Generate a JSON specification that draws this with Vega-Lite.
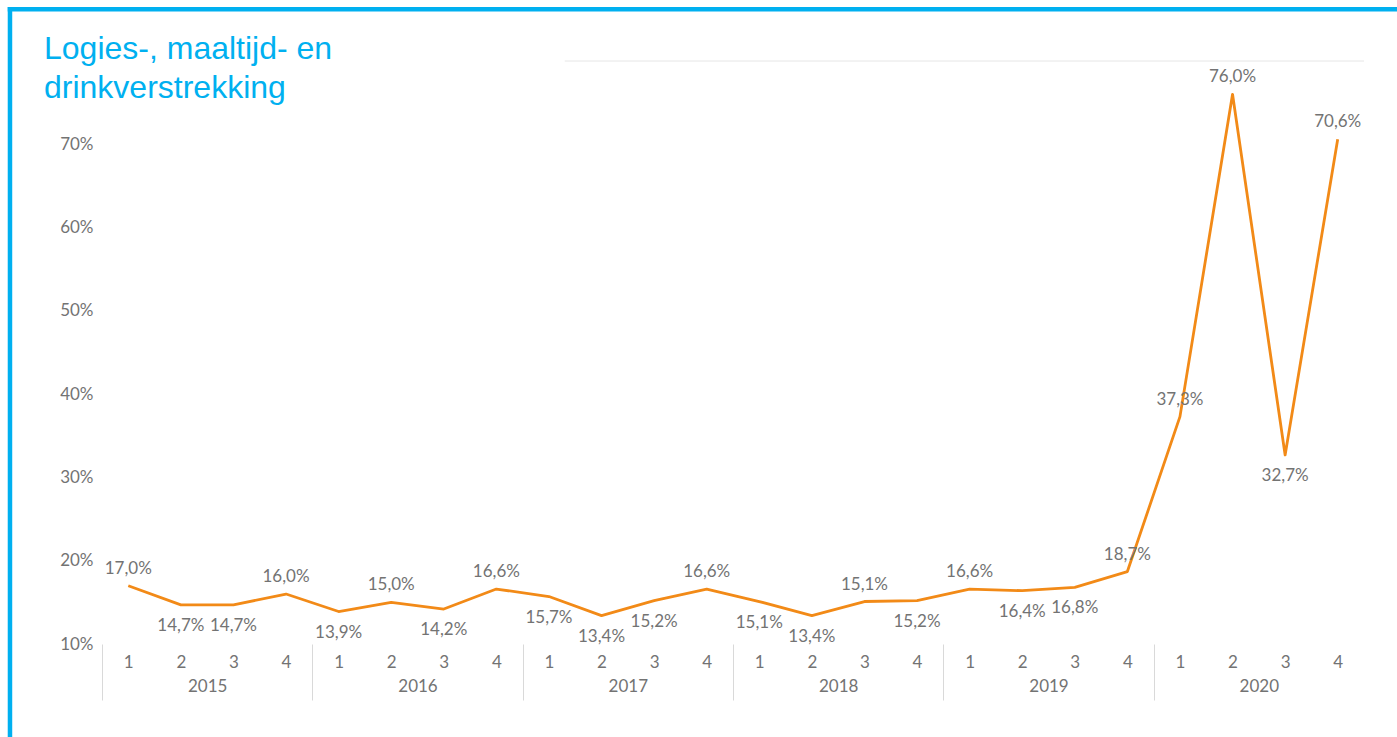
{
  "$schema": "https://vega.github.io/schema/vega-lite/v6.json",
  "width": 1262,
  "height": 583,
  "autosize": {"type": "none"},
  "padding": {"left": 102, "top": 61, "right": 33, "bottom": 93},
  "background": "white",
  "title": {
    "text": ["Logies-, maaltijd- en", "drinkverstrekking"],
    "anchor": "start",
    "frame": "group",
    "font": "Liberation Sans",
    "fontSize": 32,
    "fontWeight": "normal",
    "color": "#00B0F0",
    "lineHeight": 39,
    "offset": 0,
    "dx": -58,
    "dy": 99
  },
  "data": {
    "values": [
      {"year": 2015, "quarter": 1, "value": 17.0},
      {"year": 2015, "quarter": 2, "value": 14.7},
      {"year": 2015, "quarter": 3, "value": 14.7},
      {"year": 2015, "quarter": 4, "value": 16.0},
      {"year": 2016, "quarter": 1, "value": 13.9},
      {"year": 2016, "quarter": 2, "value": 15.0},
      {"year": 2016, "quarter": 3, "value": 14.2},
      {"year": 2016, "quarter": 4, "value": 16.6},
      {"year": 2017, "quarter": 1, "value": 15.7},
      {"year": 2017, "quarter": 2, "value": 13.4},
      {"year": 2017, "quarter": 3, "value": 15.2},
      {"year": 2017, "quarter": 4, "value": 16.6},
      {"year": 2018, "quarter": 1, "value": 15.1},
      {"year": 2018, "quarter": 2, "value": 13.4},
      {"year": 2018, "quarter": 3, "value": 15.1},
      {"year": 2018, "quarter": 4, "value": 15.2},
      {"year": 2019, "quarter": 1, "value": 16.6},
      {"year": 2019, "quarter": 2, "value": 16.4},
      {"year": 2019, "quarter": 3, "value": 16.8},
      {"year": 2019, "quarter": 4, "value": 18.7},
      {"year": 2020, "quarter": 1, "value": 37.3},
      {"year": 2020, "quarter": 2, "value": 76.0},
      {"year": 2020, "quarter": 3, "value": 32.7},
      {"year": 2020, "quarter": 4, "value": 70.6}
    ]
  },
  "transform": [
    {"calculate": "(datum.year - 2015) * 4 + datum.quarter - 1", "as": "idx"},
    {"window": [{"op": "lag", "field": "value", "as": "prev"}, {"op": "lead", "field": "value", "as": "next"}], "sort": [{"field": "idx", "order": "ascending"}], "frame": [null, null]},
    {"calculate": "datum.prev == null || datum.next == null || (datum.value > datum.prev && (datum.value >= datum.next - 0.5 || datum.value - datum.prev > 1.85))", "as": "above"},
    {"calculate": "replace(format(datum.value, '.1f'), '.', ',') + '%'", "as": "lbl"}
  ],
  "layer": [
    {
      "data": {"values": [{}]},
      "mark": {"type": "rule", "color": "#E6E6E6", "strokeWidth": 1},
      "encoding": {
        "x": {"datum": 8.3, "type": "quantitative", "axis": null, "scale": {"domain": [-0.5, 23.5], "nice": false, "zero": false}},
        "x2": {"datum": 23.5},
        "y": {"datum": 80, "type": "quantitative", "scale": {"domain": [10, 80], "nice": false, "zero": false}}
      }
    },
    {
      "mark": {"type": "line", "color": "#F28A17", "strokeWidth": 2.8, "strokeJoin": "round"},
      "encoding": {
        "x": {
          "field": "idx", "type": "quantitative",
          "scale": {"domain": [-0.5, 23.5], "nice": false, "zero": false},
          "axis": {
            "orient": "bottom", "values": [0,1,2,3,4,5,6,7,8,9,10,11,12,13,14,15,16,17,18,19,20,21,22,23],
            "labelExpr": "(datum.value % 4) + 1",
            "ticks": false, "domain": false, "grid": false, "labelPadding": 10,
            "labelFlush": false, "labelOverlap": false, "labelBound": false, "title": null
          }
        },
        "y": {
          "field": "value", "type": "quantitative",
          "scale": {"domain": [10, 80], "nice": false, "zero": false},
          "axis": {
            "values": [10, 20, 30, 40, 50, 60, 70],
            "labelExpr": "datum.value + '%'",
            "domain": false, "ticks": false, "labelPadding": 9,
            "gridColor": "#E6E6E6", "gridWidth": 1, "title": null, "labelOverlap": false
          }
        }
      }
    },
    {
      "transform": [{"filter": "datum.above"}],
      "mark": {"type": "text", "font": "Lato", "fontSize": 17, "color": "#737373", "baseline": "middle", "dy": -17},
      "encoding": {
        "x": {
          "field": "idx", "type": "quantitative",
          "scale": {"domain": [-0.5, 23.5], "nice": false, "zero": false},
          "axis": {
            "orient": "bottom", "values": [-0.5, 3.5, 7.5, 11.5, 15.5, 19.5],
            "labels": false, "ticks": true, "tickSize": 56, "tickColor": "#D9D9D9", "tickWidth": 1,
            "domain": false, "grid": false, "title": null
          }
        },
        "y": {"field": "value", "type": "quantitative", "scale": {"domain": [10, 80], "nice": false, "zero": false}},
        "text": {"field": "lbl"}
      }
    },
    {
      "transform": [{"filter": "!datum.above"}],
      "mark": {"type": "text", "font": "Lato", "fontSize": 17, "color": "#737373", "baseline": "middle", "dy": 21},
      "encoding": {
        "x": {
          "field": "idx", "type": "quantitative",
          "scale": {"domain": [-0.5, 23.5], "nice": false, "zero": false},
          "axis": {
            "orient": "bottom", "values": [1.5, 5.5, 9.5, 13.5, 17.5, 21.5],
            "labelExpr": "2015 + floor(datum.value / 4)",
            "ticks": false, "domain": false, "grid": false, "labelPadding": 34,
            "labelFlush": false, "labelOverlap": false, "labelBound": false, "title": null
          }
        },
        "y": {"field": "value", "type": "quantitative", "scale": {"domain": [10, 80], "nice": false, "zero": false}},
        "text": {"field": "lbl"}
      }
    },
    {
      "data": {"values": [{}]},
      "mark": {"type": "rule", "color": "#00B0F0", "strokeWidth": 4.5, "strokeCap": "square"},
      "encoding": {
        "x": {"datum": -2.25, "type": "quantitative", "axis": null, "scale": {"domain": [-0.5, 23.5], "nice": false, "zero": false}},
        "y": {"datum": 86.2, "type": "quantitative", "scale": {"domain": [10, 80], "nice": false, "zero": false}},
        "y2": {"datum": -3}
      }
    },
    {
      "data": {"values": [{}]},
      "mark": {"type": "rule", "color": "#00B0F0", "strokeWidth": 4.5, "strokeCap": "square"},
      "encoding": {
        "x": {"datum": -2.25, "type": "quantitative", "axis": null, "scale": {"domain": [-0.5, 23.5], "nice": false, "zero": false}},
        "x2": {"datum": 26},
        "y": {"datum": 86.2, "type": "quantitative", "scale": {"domain": [10, 80], "nice": false, "zero": false}}
      }
    }
  ],
  "resolve": {"axis": {"x": "independent"}},
  "config": {
    "view": {"stroke": null},
    "axis": {"labelFont": "Lato", "labelFontSize": 17, "labelColor": "#737373"}
  }
}
